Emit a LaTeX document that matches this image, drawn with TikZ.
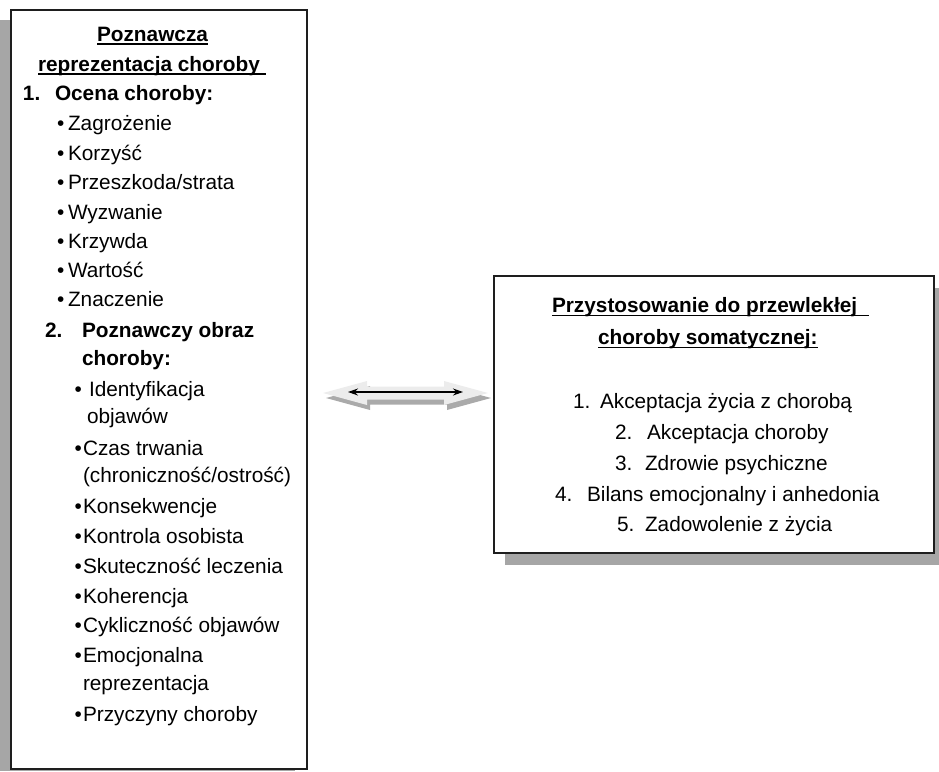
\documentclass[tikz,border=0pt]{standalone}
\usepackage{fontspec}
\setmainfont{Liberation Sans}
\usetikzlibrary{arrows.meta}
\definecolor{shadowgray}{RGB}{166,166,166}
\definecolor{framegray}{RGB}{30,30,30}
\definecolor{arrowlight}{RGB}{236,236,236}
\definecolor{arrowshade}{RGB}{170,170,170}
\tikzset{
  txt/.style={anchor=base west, inner sep=0pt, outer sep=0pt,
              font=\fontsize{20.8}{25}\selectfont},
  bold/.style={txt, font=\fontsize{20.8}{25}\selectfont\bfseries},
  panel/.style={draw=framegray, line width=2pt, fill=white, anchor=north west,
                inner sep=0pt},
  uline/.style={line width=1.6pt, black},
}
\begin{document}
\begin{tikzpicture}[x=1pt, y=-1pt]
\useasboundingbox (0,0) rectangle (939,771);

% drop shadows of the two panels
\fill[shadowgray] (0,20) rectangle (295,771);
\fill[shadowgray] (505,288) rectangle (939,565);

% panels
\node[panel, minimum width=296pt, minimum height=759pt] (lbox) at (10,9) {};
\node[panel, minimum width=440pt, minimum height=277pt] (rbox) at (493,275) {};

% ---- left panel: heading
\node[bold] (lh1) at (97,41) {Poznawcza\ };
\node[bold] (lh2) at (38,71) {reprezentacja choroby\ \ };
\draw[uline] ([yshift=-3pt]lh1.base west) -- ([yshift=-3pt]lh1.base east);
\draw[uline] ([yshift=-3pt]lh2.base west) -- ([yshift=-3pt]lh2.base east);

% section 1
\node[bold] (n1) at (23,100) {1.};
\node[bold] (s1) at (55,100) {Ocena choroby:};
\foreach \t/\y [count=\i] in {Zagrożenie/130, Korzyść/160, Przeszkoda\slash strata/189,
    Wyzwanie/219, Krzywda/248, Wartość/277, Znaczenie/306} {
  \node[txt] (ab\i) at (57,\y) {•};
  \node[txt] (a\i) at (68,\y) {\t};
}

% section 2
\node[bold] (n2) at (45,337) {2.};
\node[bold] (s2a) at (82,337) {Poznawczy obraz};
\node[bold] (s2b) at (82,365) {choroby:};
\node[txt] (bb1) at (74.5,396) {•};
\node[txt] (b1a) at (89,396) {Identyfikacja};
\node[txt] (b1b) at (87,423) {objawów};
\node[txt] (bb2) at (74.5,455) {•};
\node[txt] (b2a) at (83,455) {Czas trwania};
\node[txt] (b2b) at (83,482) {(chroniczność/ostrość)};
\foreach \t/\y [count=\i from 3] in {Konsekwencje/513, Kontrola osobista/543,
    Skuteczność leczenia/573, Koherencja/603, Cykliczność objawów/632} {
  \node[txt] (bb\i) at (74.5,\y) {•};
  \node[txt] (b\i) at (83,\y) {\t};
}
\node[txt] (bb8) at (74.5,662) {•};
\node[txt] (b8a) at (83,662) {Emocjonalna};
\node[txt] (b8b) at (83,690) {reprezentacja};
\node[txt] (bb9) at (74.5,721) {•};
\node[txt] (b9) at (83,721) {Przyczyny choroby};

% ---- right panel
\node[bold] (rh1) at (552,312) {Przystosowanie do przewlekłej\ \ \ };
\node[bold] (rh2) at (598,344) {choroby somatycznej:\ };
\draw[uline] ([yshift=-3.5pt]rh1.base west) -- ([yshift=-3.5pt]rh1.base east);
\draw[uline] ([yshift=-3.5pt]rh2.base west) -- ([yshift=-3.5pt]rh2.base east);

\node[txt] (r1n) at (573,408) {1.};
\node[txt] (r1)  at (600,408) {Akceptacja życia z chorobą};
\node[txt] (r2n) at (615,439) {2.};
\node[txt] (r2)  at (647,439) {Akceptacja choroby};
\node[txt] (r3n) at (615,470) {3.};
\node[txt] (r3)  at (645,470) {Zdrowie psychiczne};
\node[txt] (r4n) at (555,501) {4.};
\node[txt] (r4)  at (587,501) {Bilans emocjonalny i anhedonia};
\node[txt] (r5n) at (617,531) {5.};
\node[txt] (r5)  at (645,531) {Zadowolenie z życia};

% ---- double block arrow between the panels
\def\blockarrow{(323,393) -- (367,381) -- (367,386.5) -- (444,386.5) -- (444,381)
  -- (488,393) -- (444,405) -- (444,399.5) -- (367,399.5) -- (367,405) -- cycle}
\fill[arrowshade, shift={(3,5)}] \blockarrow;
\fill[arrowlight] \blockarrow;
\coordinate (al) at (348,392);
\coordinate (ar) at (463,392);
\draw[line width=1.4pt, {Stealth[length=10pt,width=7pt]}-{Stealth[length=10pt,width=7pt]}]
  (al) -- (ar);
\end{tikzpicture}
\end{document}
